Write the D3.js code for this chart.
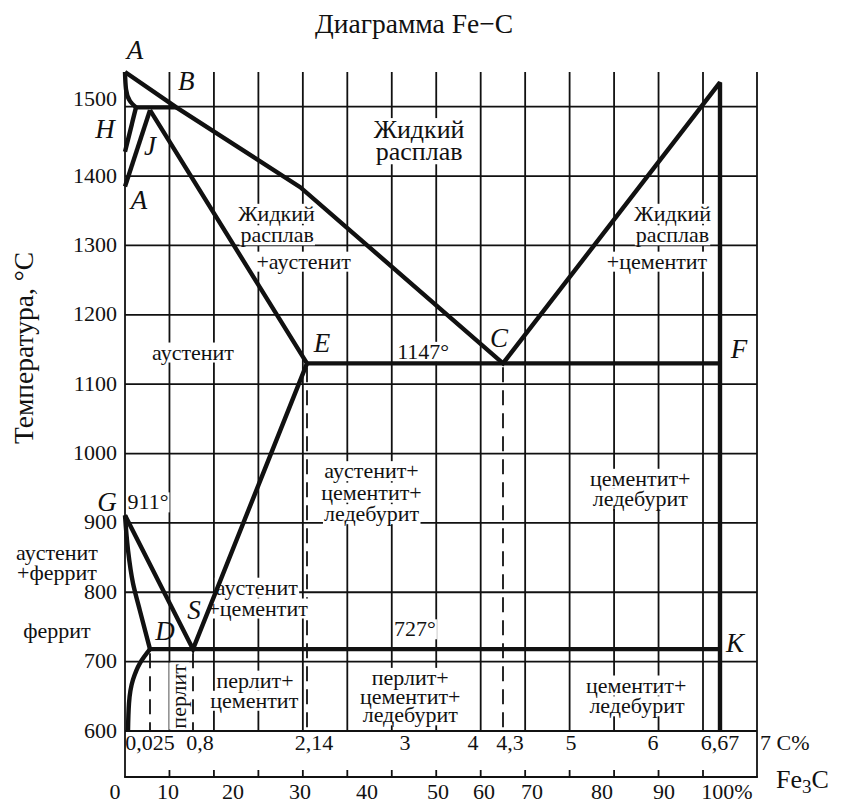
<!DOCTYPE html>
<html><head><meta charset="utf-8">
<script src="https://cdn.jsdelivr.net/npm/d3@7"></script>
<style>
html,body{margin:0;padding:0;background:#fff;}
svg{display:block;font-family:"Liberation Serif","Times New Roman",serif;}
</style></head><body>
<svg id="chart" width="841" height="805"></svg>
<script>
// ---------- data ----------
const carbonStops = [0, 0.025, 0.8, 2.14, 3, 4, 4.3, 5, 6, 6.67, 7];
const tempTicks = [600, 700, 800, 900, 1000, 1100, 1200, 1300, 1400, 1500];
const carbonLabelValues = [0.025, 0.8, 2.14, 3, 4, 4.3, 5, 6, 6.67, 7];
const carbonLabelTexts = ["0,025", "0,8", "2,14", "3", "4", "4,3", "5", "6", "6,67", "7 C%"];
const fe3cValues = [0, 10, 20, 30, 40, 50, 60, 70, 80, 90, 100];
const fe3cTexts = ["0", "10", "20", "30", "40", "50", "60", "70", "80", "90", "100%"];
const gridColumns = [1, 2, 3, 4, 5, 6, 7, 8, 9, 10, 11, 12, 13];

// phase boundary lines: [C %, T °C]
const liquidus = [[0, 1550], [0.5, 1499], [2.06, 1384], [4.3, 1130], [6.67, 1535], [6.67, 600]];
const curveAH = [[0, 1550], [0.001, 1525], [0.005, 1508], [0.011, 1499]];
const peritectic = [[0.011, 1499], [0.5, 1499]];
const lineHN = [[0.011, 1499], [0, 1435]];
const lineJN = [[0.025, 1495], [0, 1385]];
const solvusGSEJ = [[0, 911], [0.8, 718], [2.14, 1130], [0.025, 1495]];
const eutectic = [[2.14, 1130], [6.67, 1130]];
const eutectoid = [[0.025, 718], [6.67, 718]];
const curveGP = [[0, 911], [0.003, 861], [0.008, 813], [0.015, 773], [0.025, 718]];
const curvePQ = [[0.025, 718], [0.015, 698], [0.008, 674], [0.004, 640], [0.003, 600]];
const dashedCarbon = [0.025, 0.8, 2.14, 4.3];
const dashedTop = [718, 718, 1130, 1130];

// named points
const pointNames = ["A", "B", "H", "J", "A", "E", "C", "F", "G", "S", "D", "K"];
const pointCarbon = [0, 0.5, 0.011, 0.025, 0, 2.14, 4.3, 6.67, 0, 0.8, 0.025, 6.67];
const pointTemp = [1550, 1499, 1499, 1495, 1385, 1130, 1130, 1130, 911, 718, 718, 718];

// region annotations (centre of each text line in C %, °C)
const regionTexts = ["Жидкий", "расплав", "Жидкий", "расплав", "+аустенит", "Жидкий", "расплав", "+цементит",
  "аустенит", "1147°", "аустенит+", "цементит+", "ледебурит", "цементит+", "ледебурит", "911°",
  "аустенит", "+цементит", "727°", "перлит+", "цементит", "перлит+", "цементит+", "ледебурит",
  "цементит+", "ледебурит", "перлит"];
const regionCarbon = [3.31, 3.31, 1.78, 1.79, 2.10, 6.24, 6.24, 6.10,
  0.80, 3.37, 2.75, 2.75, 2.75, 5.93, 5.93, 0.023,
  1.55, 1.56, 3.25, 1.53, 1.52, 3.18, 3.18, 3.18,
  5.88, 5.89, 0.56];
const regionTemp = [1466, 1434, 1345, 1314, 1276, 1345, 1314, 1276,
  1145, 1146, 974, 943, 912, 963, 934, 929,
  806, 776, 746, 672, 643, 676, 649, 622,
  665, 635, 650];
// labels in the left margin
const marginTexts = ["аустенит", "+феррит", "феррит"];
const marginTemp = [856, 827, 743];

// ---------- drawing ----------
const svg = d3.select("#chart");
const x = d3.scaleLinear().domain(carbonStops).range([125, 150, 193, 307, 398, 466, 503, 564, 646, 720, 757]);
const y = d3.scaleLinear().domain([600, 1550]).range([731, 72]);
const gx = d3.scaleLinear().domain([0, 13]).range([125, 703]);
const fx = d3.scaleLinear().domain(fe3cValues).range([115, 168, 233, 300, 367, 438, 484, 532, 602, 664, 727]);
const axisBottomY = 777;
const ink = "#111";

const grid = svg.append("g").attr("stroke", ink).attr("stroke-width", 1.8).attr("fill", "none");
grid.selectAll(".h").data(tempTicks).join("line")
  .attr("x1", x(0)).attr("x2", x(7)).attr("y1", d => y(d)).attr("y2", d => y(d));
grid.selectAll(".v").data(gridColumns).join("line")
  .attr("x1", d => gx(d)).attr("x2", d => gx(d)).attr("y1", y(1550)).attr("y2", y(600));
grid.append("line").attr("x1", x(0)).attr("x2", x(0)).attr("y1", y(1550)).attr("y2", axisBottomY);
grid.append("line").attr("x1", x(7)).attr("x2", x(7)).attr("y1", y(1550)).attr("y2", axisBottomY);
grid.append("line").attr("x1", x(0) - 0.9).attr("x2", x(7) + 0.9).attr("y1", axisBottomY).attr("y2", axisBottomY);
grid.selectAll(".t").data(gridColumns).join("line")
  .attr("x1", d => gx(d)).attr("x2", d => gx(d)).attr("y1", axisBottomY - 7).attr("y2", axisBottomY);

// dashed verticals
svg.append("g").attr("stroke", ink).attr("stroke-width", 1.8).attr("stroke-dasharray", "15 8")
  .selectAll("line").data(dashedCarbon).join("line")
  .attr("x1", d => x(d)).attr("x2", d => x(d))
  .attr("y1", (d, i) => y(dashedTop[i]) + 4).attr("y2", y(600));

const bgLayer = svg.append("g").attr("fill", "#fff");
const ann = svg.append("g").attr("font-size", 22).attr("fill", ink);

function addText(g, txt, px, py, opts = {}) {
  const t = g.append("text").attr("x", px).attr("y", py).attr("dy", "0.3em")
    .attr("text-anchor", opts.anchor || "middle").text(txt);
  if (opts.size) t.attr("font-size", opts.size);
  if (opts.rotate) t.attr("transform", `rotate(${opts.rotate},${px},${py})`);
  if (opts.bg) {
    const b = t.node().getBBox();
    const r = bgLayer.append("rect")
      .attr("x", b.x - 1).attr("y", b.y + 3).attr("width", b.width + 2).attr("height", b.height - 5);
    if (opts.rotate) r.attr("transform", `rotate(${opts.rotate},${px},${py})`);
  }
  return t;
}
regionTexts.forEach((s, i) => {
  const big = i < 2;
  const rot = i === regionTexts.length - 1 ? -90 : 0;
  addText(ann, s, x(regionCarbon[i]), y(regionTemp[i]), { bg: true, size: big ? 26 : 22, rotate: rot });
});
marginTexts.forEach((s, i) => addText(ann, s, x(0) - 68, y(marginTemp[i]), { size: 22 }));

// phase lines
const line = d3.line().x(d => x(d[0])).y(d => y(d[1]));
const smooth = d3.line().x(d => x(d[0])).y(d => y(d[1])).curve(d3.curveMonotoneY);
const phase = svg.append("g").attr("fill", "none").attr("stroke", ink).attr("stroke-width", 4.4)
  .attr("stroke-linejoin", "miter").attr("stroke-miterlimit", 2.5);
[liquidus, peritectic, lineHN, lineJN, solvusGSEJ, eutectic, eutectoid].forEach(d =>
  phase.append("path").attr("d", line(d)));
[curveAH, curveGP, curvePQ].forEach(d => phase.append("path").attr("d", smooth(d)));

// point labels (italic)
const labelOffsets = [[10, -21], [10, -25], [-31, 23], [0, 37], [14, 14], [15, -19], [-4, -24], [19, -13], [-18, -12], [1, -38], [15, -17], [15, -5]];
const pts = svg.append("g").attr("font-size", 27).attr("font-style", "italic").attr("fill", ink);
pointNames.forEach((n, i) => {
  addText(pts, n, x(pointCarbon[i]) + labelOffsets[i][0], y(pointTemp[i]) + labelOffsets[i][1]);
});

// axis labels
const ax = svg.append("g").attr("fill", ink).attr("font-size", 22);
tempTicks.forEach(t => addText(ax, String(t), x(0) - 8, y(t) - (t === 1500 ? 7 : 0), { anchor: "end" }));
carbonLabelValues.forEach((v, i) => {
  const dx = (v === 0.025 || v === 6.67) ? 0 : 7;
  const anchor = v === 7 ? "start" : "middle";
  addText(ax, carbonLabelTexts[i], x(v) + (v === 7 ? 3 : dx), 743, { anchor, size: 22 });
});
fe3cValues.forEach((v, i) => addText(ax, fe3cTexts[i], fx(v), 792, { size: 22 }));
const fe = ax.append("text").attr("x", 776).attr("y", 788).attr("font-size", 26);
fe.append("tspan").text("Fe");
fe.append("tspan").attr("font-size", 19).attr("dy", 5).text("3");
fe.append("tspan").attr("dy", -5).text("C");

addText(ax, "Температура, °С", 25, 348, { rotate: -90, size: 27.5 });
addText(ax, "Диаграмма Fe−C", 414, 25, { size: 27.5 });
</script>
</body></html>
